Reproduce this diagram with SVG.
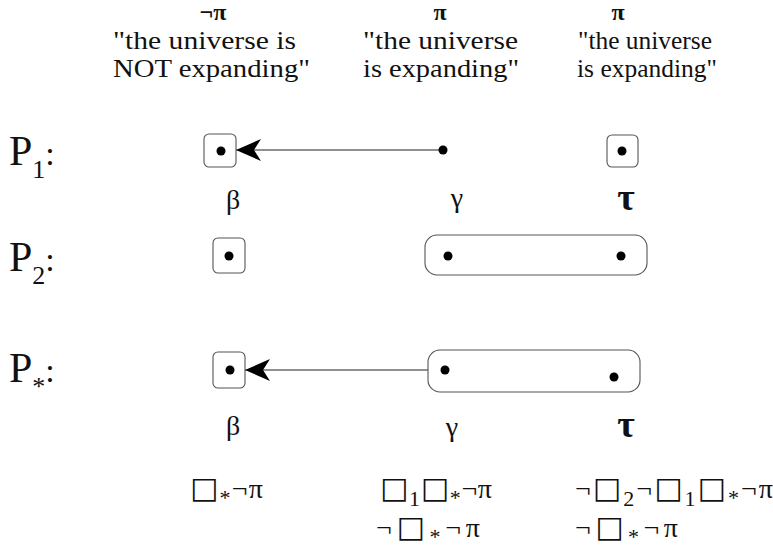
<svg xmlns="http://www.w3.org/2000/svg" width="773" height="558" viewBox="0 0 773 558">
<style>
text{font-family:"Liberation Serif","Times New Roman",serif;fill:#111}
.hd{font-size:26px}
.sym{font-size:24px;font-weight:bold}
.P{font-size:42px}
.sub{font-size:26px}
.fs{font-size:22px}
.col{font-size:34px}
.gr{font-size:28px}
.tau{font-size:38px;font-weight:bold}
.f{font-size:28px}
.bx{font-family:"DejaVu Sans",sans-serif;font-size:30px}
.frame{fill:none;stroke:#555;stroke-width:1.1}
.dot{fill:#000}
.edge{stroke:#222;stroke-width:1.2;fill:none}
</style>
<defs>
<marker id="ah" markerWidth="26" markerHeight="22" refX="25" refY="11" orient="auto" markerUnits="userSpaceOnUse">
<path d="M0,0 L25,11 L0,22 L7,11 Z" fill="#000"/>
</marker>
</defs>

<g id="header">
<text class="sym" x="213" y="20" text-anchor="middle">¬π</text>
<text class="sym" x="440" y="20" text-anchor="middle">π</text>
<text class="sym" x="618" y="20" text-anchor="middle">π</text>
<text class="hd" x="113" y="49" textLength="183" lengthAdjust="spacingAndGlyphs">"the universe is</text>
<text class="hd" x="113" y="77" textLength="197" lengthAdjust="spacingAndGlyphs">NOT expanding"</text>
<text class="hd" x="363" y="49" textLength="155" lengthAdjust="spacingAndGlyphs">"the universe</text>
<text class="hd" x="363" y="77" textLength="156" lengthAdjust="spacingAndGlyphs">is expanding"</text>
<text class="hd" x="578" y="49" textLength="134" lengthAdjust="spacingAndGlyphs">"the universe</text>
<text class="hd" x="577" y="77" textLength="140" lengthAdjust="spacingAndGlyphs">is expanding"</text>
</g>

<g id="label-P1"><text x="9" y="165"><tspan class="P">P</tspan><tspan class="sub" dy="13">1</tspan><tspan class="col" dy="-13">:</tspan></text></g>
<g id="label-P2"><text x="9" y="271"><tspan class="P">P</tspan><tspan class="sub" dy="13">2</tspan><tspan class="col" dy="-13">:</tspan></text></g>
<g id="label-Pstar"><text x="9" y="382"><tspan class="P">P</tspan><tspan class="sub" dy="13">*</tspan><tspan class="col" dy="-13">:</tspan></text></g>

<g id="connectors">
<line class="edge" x1="443" y1="150" x2="236" y2="150" marker-end="url(#ah)"/>
<line class="edge" x1="428" y1="370" x2="245" y2="370" marker-end="url(#ah)"/>
</g>

<g id="P1-beta"><rect class="frame" x="204" y="134" width="32" height="33" rx="5"/><circle class="dot" cx="221" cy="151" r="4.5"/></g>
<g id="P1-gamma"><circle class="dot" cx="443" cy="150" r="4.5"/></g>
<g id="P1-tau"><rect class="frame" x="607" y="135" width="31" height="32" rx="5"/><circle class="dot" cx="622" cy="151" r="4.5"/></g>

<g id="labels-1">
<text class="gr" x="233" y="209" text-anchor="middle">β</text>
<text class="gr" x="457" y="207" text-anchor="middle">γ</text>
<text class="tau" x="626" y="210" text-anchor="middle">τ</text>
</g>

<g id="P2-beta"><rect class="frame" x="213" y="238" width="32" height="35" rx="5"/><circle class="dot" cx="229" cy="256" r="4.5"/></g>
<g id="P2-gamma-tau"><rect class="frame" x="425" y="235" width="222" height="40" rx="12"/><circle class="dot" cx="448" cy="256" r="4.5"/><circle class="dot" cx="621" cy="256" r="4.5"/></g>

<g id="Pstar-beta"><rect class="frame" x="213" y="352" width="32" height="36" rx="5"/><circle class="dot" cx="230" cy="370" r="4.5"/></g>
<g id="Pstar-gamma-tau"><rect class="frame" x="428" y="350" width="212" height="42" rx="12"/><circle class="dot" cx="445" cy="370" r="4.5"/><circle class="dot" cx="614" cy="377" r="4.5"/></g>

<g id="labels-2">
<text class="gr" x="233" y="435" text-anchor="middle">β</text>
<text class="gr" x="452" y="436" text-anchor="middle">γ</text>
<text class="tau" x="626" y="437" text-anchor="middle">τ</text>
</g>

<g id="formulas">
<text class="f" x="190" y="498" textLength="73" lengthAdjust="spacing"><tspan class="bx">□</tspan><tspan class="fs" dy="7">*</tspan><tspan dy="-7">¬π</tspan></text>
<text class="f" x="380" y="498" textLength="112" lengthAdjust="spacing"><tspan class="bx">□</tspan><tspan class="fs" dy="8">1</tspan><tspan class="bx" dy="-8">□</tspan><tspan class="fs" dy="7">*</tspan><tspan dy="-7">¬π</tspan></text>
<text class="f" x="575" y="498" textLength="198" lengthAdjust="spacing">¬<tspan class="bx">□</tspan><tspan class="fs" dy="8">2</tspan><tspan dy="-8">¬</tspan><tspan class="bx">□</tspan><tspan class="fs" dy="8">1</tspan><tspan class="bx" dy="-8">□</tspan><tspan class="fs" dy="7">*</tspan><tspan dy="-7">¬π</tspan></text>
<text class="f" x="376" y="537" textLength="104" lengthAdjust="spacing">¬<tspan class="bx">□</tspan><tspan class="fs" dy="7">*</tspan><tspan dy="-7">¬π</tspan></text>
<text class="f" x="575" y="537" textLength="103" lengthAdjust="spacing">¬<tspan class="bx">□</tspan><tspan class="fs" dy="7">*</tspan><tspan dy="-7">¬π</tspan></text>
</g>
</svg>
